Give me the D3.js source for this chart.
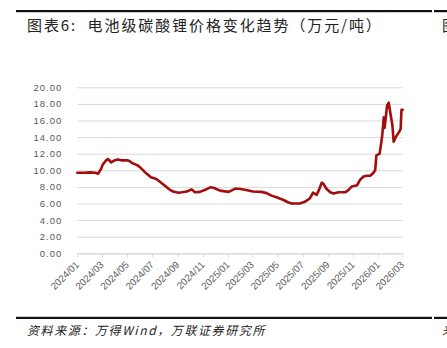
<!DOCTYPE html>
<html>
<head>
<meta charset="utf-8">
<script src="https://cdn.jsdelivr.net/npm/d3@7"></script>
<style>
  html, body { margin: 0; padding: 0; background: #fff; }
  svg { display: block; }
</style>
</head>
<body>
<svg id="chart" width="447" height="348"></svg>
<script>
// Battery-grade lithium carbonate price, 10k CNY per tonne
const dates = [
  "2024-01-01","2024-01-19","2024-02-01","2024-02-13","2024-02-21","2024-02-28",
  "2024-03-03","2024-03-11","2024-03-15","2024-03-19","2024-03-23","2024-04-01",
  "2024-04-09","2024-04-17","2024-04-25","2024-05-03","2024-05-07","2024-05-14",
  "2024-05-24","2024-05-28","2024-06-05","2024-06-17","2024-06-28","2024-07-11",
  "2024-07-19","2024-08-01","2024-08-13","2024-08-21","2024-09-03","2024-09-11",
  "2024-09-23","2024-10-05","2024-10-13","2024-10-25","2024-11-07","2024-11-19",
  "2024-11-27","2024-12-13","2025-01-03","2025-01-19","2025-02-01","2025-02-17",
  "2025-03-03","2025-03-24","2025-04-05","2025-04-17","2025-04-29","2025-05-15",
  "2025-05-27","2025-06-05","2025-06-25","2025-07-07","2025-07-19","2025-07-27",
  "2025-08-05","2025-08-11","2025-08-17","2025-08-21","2025-08-29","2025-09-07",
  "2025-09-15","2025-09-27","2025-10-13","2025-10-21","2025-10-29","2025-11-11",
  "2025-11-19","2025-11-27","2025-12-05","2025-12-13","2025-12-21","2025-12-25",
  "2025-12-28","2026-01-05","2026-01-11","2026-01-15","2026-01-17","2026-01-23",
  "2026-01-27","2026-02-01","2026-02-05","2026-02-08","2026-02-13","2026-02-21",
  "2026-02-25","2026-02-27","2026-03-02"
];
const prices = [
  9.70, 9.70, 9.75, 9.70, 9.60, 10.20,
  10.70, 11.20, 11.35, 11.20, 10.95, 11.20,
  11.30, 11.20, 11.20, 11.20, 11.10, 10.85,
  10.65, 10.55, 10.20, 9.60, 9.15, 8.95,
  8.65, 8.15, 7.65, 7.45, 7.30, 7.35,
  7.45, 7.70, 7.35, 7.40, 7.65, 7.95,
  7.90, 7.55, 7.40, 7.80, 7.75, 7.60,
  7.45, 7.40, 7.25, 6.95, 6.75, 6.45,
  6.15, 6.00, 6.00, 6.20, 6.60, 7.30,
  7.05, 7.70, 8.50, 8.40, 7.75, 7.35,
  7.20, 7.35, 7.35, 7.60, 8.05, 8.20,
  8.90, 9.25, 9.35, 9.35, 9.70, 10.00,
  11.80, 12.00, 14.10, 16.40, 15.10, 17.80,
  18.15, 16.60, 15.40, 13.45, 14.00, 14.60,
  15.00, 17.30, 17.30
];
const yTicks = [0, 2, 4, 6, 8, 10, 12, 14, 16, 18, 20];
const xTickLabels = [
  "2024/01","2024/03","2024/05","2024/07","2024/09","2024/11","2025/01",
  "2025/03","2025/05","2025/07","2025/09","2025/11","2026/01","2026/03"
];

const titleText = "图表6:  电池级碳酸锂价格变化趋势（万元/吨）";
const sourceText = "资料来源：万得Wind，万联证券研究所";

const parseDate = d3.timeParse("%Y-%m-%d");
const parseTick = d3.timeParse("%Y/%m");
const series = dates.map((d, i) => ({ date: parseDate(d), value: prices[i] }));

const svg = d3.select("#chart");

const x = d3.scaleTime()
  .domain([parseTick("2024/01"), parseTick("2026/03")])
  .range([77.3, 402.3]);
const y = d3.scaleLinear().domain([0, 20]).range([253.3, 87.3]);

// Frame rules above the title and above the source note
svg.append("rect").attr("x", 16).attr("y", 10).attr("width", 416).attr("height", 2.2).attr("fill", "#111");
svg.append("rect").attr("x", 434).attr("y", 10).attr("width", 13).attr("height", 2.2).attr("fill", "#111");
svg.append("rect").attr("x", 16).attr("y", 316.8).attr("width", 416).attr("height", 2.2).attr("fill", "#111");
svg.append("rect").attr("x", 434).attr("y", 316.8).attr("width", 13).attr("height", 2.2).attr("fill", "#111");

svg.append("text")
  .attr("x", 27).attr("y", 31)
  .attr("font-family", "'Noto Sans CJK SC', sans-serif")
  .attr("font-size", 15)
  .attr("letter-spacing", 1.9)
  .attr("fill", "#222")
  .style("white-space", "pre")
  .text(titleText);

svg.append("text")
  .attr("x", 442).attr("y", 31)
  .attr("font-family", "'Noto Sans CJK SC', sans-serif")
  .attr("font-size", 15)
  .attr("fill", "#222")
  .text("图");

svg.append("text")
  .attr("x", 27).attr("y", 335)
  .attr("font-family", "'Noto Sans CJK SC', sans-serif")
  .attr("font-size", 12)
  .attr("letter-spacing", 1.6)
  .attr("font-style", "italic")
  .attr("fill", "#222")
  .text(sourceText);

svg.append("text")
  .attr("x", 442).attr("y", 335)
  .attr("font-family", "'Noto Sans CJK SC', sans-serif")
  .attr("font-size", 12)
  .attr("font-style", "italic")
  .attr("fill", "#222")
  .text("来");

// Horizontal gridlines and y labels
const yAxis = d3.axisLeft(y)
  .tickValues(yTicks)
  .tickSize(-(402.3 - 77.3))
  .tickPadding(15)
  .tickFormat(d3.format(".2f"));

const gy = svg.append("g").attr("transform", "translate(77.3,0)").call(yAxis);
gy.select(".domain").remove();
gy.selectAll(".tick line").attr("stroke", "#d9d9d9").attr("stroke-width", 1);
gy.selectAll(".tick text")
  .attr("font-family", "'Liberation Sans', Arial, sans-serif")
  .attr("font-size", 9.5)
  .attr("letter-spacing", 1)
  .attr("fill", "#595959");

// Bottom date axis
const xAxis = d3.axisBottom(x)
  .tickValues(xTickLabels.map(parseTick))
  .tickSize(4)
  .tickSizeOuter(0)
  .tickFormat(d3.timeFormat("%Y/%m"));

const gx = svg.append("g").attr("transform", "translate(0,253.3)").call(xAxis);
gx.select(".domain").attr("stroke", "#d9d9d9");
gx.selectAll(".tick line").attr("stroke", "#d9d9d9");
gx.selectAll(".tick text")
  .attr("font-family", "'Liberation Sans', Arial, sans-serif")
  .attr("font-size", 9.8)
  .attr("fill", "#595959")
  .attr("text-anchor", "end")
  .attr("dy", null)
  .attr("y", 0)
  .attr("transform", "translate(2,12) rotate(-45)");

// Price line
const line = d3.line()
  .x(d => x(d.date))
  .y(d => y(d.value))
  .curve(d3.curveLinear);

svg.append("path")
  .datum(series)
  .attr("d", line)
  .attr("fill", "none")
  .attr("stroke", "#a30d0d")
  .attr("stroke-width", 2.6)
  .attr("stroke-linejoin", "round")
  .attr("stroke-linecap", "round");
</script>
</body>
</html>
